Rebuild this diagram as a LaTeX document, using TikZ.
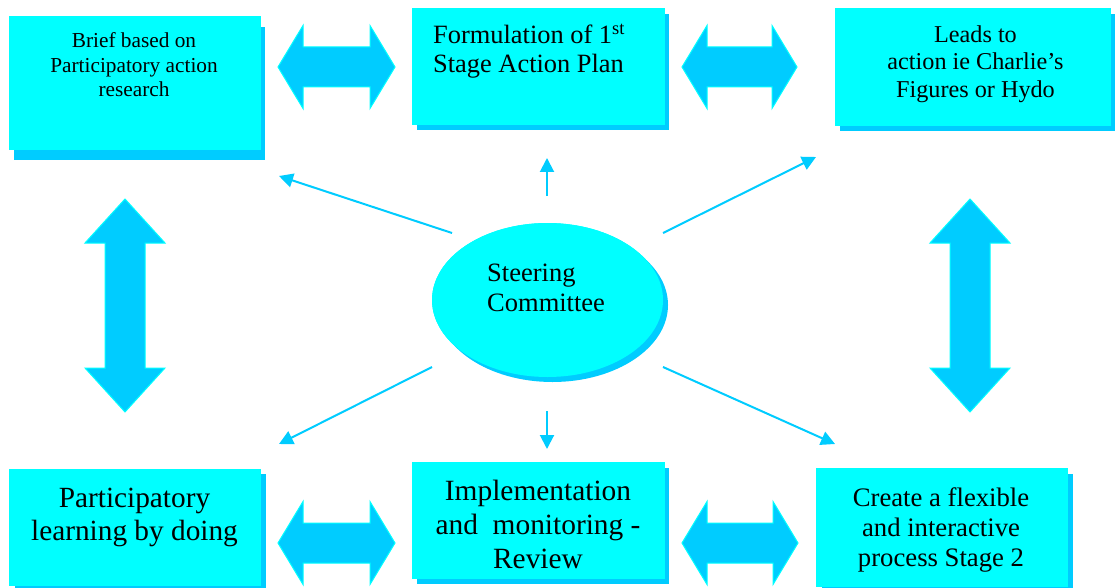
\documentclass[tikz,border=0pt]{standalone}
\usepackage{fontspec}
\setmainfont{Liberation Serif}
\usetikzlibrary{shapes.geometric,arrows.meta}
\definecolor{frontc}{HTML}{00FFFF}
\definecolor{shadc}{HTML}{00CCFF}
\newcommand\HDArrow[3]{%
  \filldraw[blockarrow] (#1,#3) -- ({#1+25},{#3-41.5}) -- ({#1+25},{#3-20}) -- ({#2-25},{#3-20}) -- ({#2-25},{#3-41.5}) -- (#2,#3) -- ({#2-25},{#3+41.5}) -- ({#2-25},{#3+20}) -- ({#1+25},{#3+20}) -- ({#1+25},{#3+41.5}) -- cycle;}
\newcommand\VDArrow[3]{%
  \filldraw[blockarrow] (#1,#2) -- ({#1+40},{#2+44}) -- ({#1+20},{#2+44}) -- ({#1+20},{#3-44}) -- ({#1+40},{#3-44}) -- (#1,#3) -- ({#1-40},{#3-44}) -- ({#1-20},{#3-44}) -- ({#1-20},{#2+44}) -- ({#1-40},{#2+44}) -- cycle;}
\begin{document}
\begin{tikzpicture}[x=1pt,y=-1pt,
  box/.style={rectangle, fill=frontc, draw=frontc, line width=0.8pt, inner sep=0pt},
  shadowbox/.style={fill=shadc},
  blockarrow/.style={fill=shadc, draw=frontc, line width=1pt, line join=miter},
  thinarrow/.style={draw=shadc, line width=2pt, -{Triangle[length=14pt,width=14pt]}},
  txt/.style={inner sep=0pt, align=center, text=black},
  ell/.style={ellipse, fill=frontc, inner sep=0pt, minimum width=231pt, minimum height=154pt}]
\useasboundingbox (0,0) rectangle (1115,588);
\fill[white] (0,0) rectangle (1115,588);

% boxes
\node[box, minimum width=251pt, minimum height=133pt] (b1) at (134.5,82.5) {};
\node[box, minimum width=252pt, minimum height=116pt] (b2) at (538,66) {};
\node[box, minimum width=275pt, minimum height=117pt] (b3) at (972.5,66.5) {};
\node[box, minimum width=251pt, minimum height=116pt] (b4) at (134.5,527) {};
\node[box, minimum width=252pt, minimum height=116pt] (b5) at (538,520) {};
\node[box, minimum width=251pt, minimum height=118pt] (b6) at (941.5,527) {};
\node[ell] (sc) at (547.5,300) {};

% shadows
\fill[shadowbox] ([shift={(5,11)}]b1.south west) rectangle ([shift={(5,11)}]b1.north east);
\fill[shadowbox] ([shift={(5,6)}]b2.south west) rectangle ([shift={(5,6)}]b2.north east);
\fill[shadowbox] ([shift={(5,6)}]b3.south west) rectangle ([shift={(5,6)}]b3.north east);
\fill[shadowbox] ([shift={(6,5)}]b4.south west) rectangle ([shift={(6,5)}]b4.north east);
\fill[shadowbox] ([shift={(5,6)}]b5.south west) rectangle ([shift={(5,6)}]b5.north east);
\fill[shadowbox] ([shift={(6,6)}]b6.south west) rectangle ([shift={(6,6)}]b6.north east);
\fill[shadowbox] ([shift={(5,5)}]sc.center) ellipse [x radius=115.5, y radius=77];

% fronts over the shadows
\node[box, minimum width=251pt, minimum height=133pt] at (b1) {};
\node[box, minimum width=252pt, minimum height=116pt] at (b2) {};
\node[box, minimum width=275pt, minimum height=117pt] at (b3) {};
\node[box, minimum width=251pt, minimum height=116pt] at (b4) {};
\node[box, minimum width=252pt, minimum height=116pt] at (b5) {};
\node[box, minimum width=251pt, minimum height=118pt] at (b6) {};
\node[ell] at (sc) {};

% texts
\node[txt, font=\fontsize{21.3}{24.5}\selectfont, anchor=north] (t1) at (134,32.5) {Brief based on\\Participatory action\\research};
\node[txt, font=\fontsize{26.4}{29}\selectfont, align=left, anchor=north west] (t2) at (433,23.5) {Formulation of 1\textsuperscript{st}\\Stage Action Plan};
\node[txt, font=\fontsize{24.2}{27.5}\selectfont, anchor=north] (t3) at (975.5,25.5) {Leads to\\action ie Charlie’s\\Figures or Hydo};
\node[txt, font=\fontsize{29.3}{33}\selectfont, anchor=north] (t4) at (134.5,487.5) {Participatory\\learning by doing};
\node[txt, font=\fontsize{29.4}{34}\selectfont, anchor=north] (t5) at (538,480) {Implementation\\and\ \ monitoring -\\Review};
\node[txt, font=\fontsize{26.7}{30}\selectfont, anchor=north] (t6) at (941,487) {Create a flexible\\and interactive\\process Stage 2};
\node[txt, font=\fontsize{26.5}{30}\selectfont, align=left, anchor=north west] (t7) at (487,264) {Steering\\Committee};

% block arrows
\HDArrow{278}{395}{67}
\HDArrow{682}{797}{67}
\HDArrow{278}{395}{543}
\HDArrow{682}{798}{543}
\VDArrow{125}{199}{412}
\VDArrow{970}{199}{412}

% thin arrows
\coordinate (s1) at (452,233); \coordinate (e1) at (279,176);
\coordinate (s2) at (547,196); \coordinate (e2) at (547,158);
\coordinate (s3) at (663,233); \coordinate (e3) at (816,157);
\coordinate (s4) at (432,367); \coordinate (e4) at (279,444);
\coordinate (s5) at (547,411); \coordinate (e5) at (547,449);
\coordinate (s6) at (663,367); \coordinate (e6) at (835,444);
\draw[thinarrow] (s1) -- (e1);
\draw[thinarrow] (s2) -- (e2);
\draw[thinarrow] (s3) -- (e3);
\draw[thinarrow] (s4) -- (e4);
\draw[thinarrow] (s5) -- (e5);
\draw[thinarrow] (s6) -- (e6);
\end{tikzpicture}
\end{document}
